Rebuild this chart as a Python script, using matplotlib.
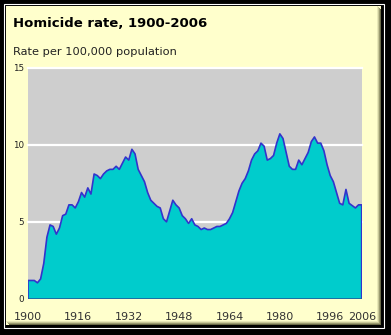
import matplotlib
matplotlib.use("Agg")
import matplotlib.pyplot as plt
from matplotlib.patches import Rectangle
import numpy as np

years = list(range(1900, 2007))
rate = [
    1.2, 1.2, 1.2, 1.05, 1.3, 2.3, 4.0, 4.8, 4.7, 4.2,      # 1900s
    4.6, 5.4, 5.5, 6.1, 6.1, 5.9, 6.3, 6.9, 6.6, 7.2,      # 1910s
    6.8, 8.1, 8.0, 7.8, 8.1, 8.3, 8.4, 8.4, 8.6, 8.4,      # 1920s
    8.8, 9.2, 9.0, 9.7, 9.4, 8.4, 8.0, 7.6, 6.9, 6.4,      # 1930s
    6.2, 6.0, 5.9, 5.2, 5.0, 5.7, 6.4, 6.1, 5.9, 5.4,      # 1940s
    5.2, 4.9, 5.2, 4.8, 4.7, 4.5, 4.6, 4.5, 4.5, 4.6,      # 1950s
    4.7, 4.7, 4.8, 4.9, 5.2, 5.6, 6.3, 7.0, 7.5, 7.8,      # 1960s
    8.3, 9.0, 9.4, 9.6, 10.1, 9.9, 9.0, 9.1, 9.3, 10.1,    # 1970s
    10.7, 10.4, 9.5, 8.6, 8.4, 8.4, 9.0, 8.7, 9.1, 9.5,    # 1980s
    10.2, 10.5, 10.1, 10.1, 9.6, 8.7, 8.0, 7.6, 6.9, 6.2,  # 1990s
    6.1, 7.1, 6.2, 6.05, 5.9, 6.1, 6.1,                     # 2000s
]
x_ticks = [1900, 1916, 1932, 1948, 1964, 1980, 1996, 2006]
y_ticks = [0, 5, 10, 15]

W, H = 391, 335


def fx(px):
    return px / W


def fy(py):
    return 1 - py / H


fig = plt.figure(figsize=(W / 100, H / 100), dpi=100, facecolor="black")


def frame_rect(x0, y0, w, h, **kw):
    # rectangle given in pixels, top-left origin
    r = Rectangle((fx(x0), fy(y0 + h)), w / W, h / H, transform=fig.transFigure, zorder=-10, **kw)
    fig.add_artist(r)


# frame: white outline, yellow panel with bevel on right/bottom
frame_rect(3.5, 3.5, 380, 324, fill=False, edgecolor="white", linewidth=0.8)
frame_rect(6, 6, 375, 319, facecolor="#ffffcc", edgecolor="none")
bevel = ["#e8e8b8", "#c8c898", "#9a9a70", "#6a6a48"]
for i, c in enumerate(bevel):
    frame_rect(377 + i, 6 + i, 1, 319 - i, facecolor=c, edgecolor="none")
    frame_rect(6 + i, 321 + i, 375 - i, 1, facecolor=c, edgecolor="none")

fig.text(fx(13), fy(27.3), "Homicide rate, 1900-2006", fontsize=9.5, fontweight="bold",
         color="black", va="baseline", ha="left")
fig.text(fx(13), fy(55), "Rate per 100,000 population", fontsize=8.2,
         color="#222222", va="baseline", ha="left")

ax = fig.add_axes([fx(28), fy(299), (361.7 - 28) / W, (299 - 67.5) / H])
ax.set_facecolor("#cecece")
for s in ax.spines.values():
    s.set_visible(False)

for v in y_ticks[1:]:
    ax.axhline(v, color="white", linewidth=1.6, zorder=1, clip_on=False)

ax.fill_between(years, rate, 0, facecolor="#00cccc", edgecolor="none", zorder=2)
ax.plot([years[0]] + years + [years[-1]], [0] + rate + [0], color="#3333cc", linewidth=1.2, zorder=3)
ax.plot([years[0], years[-1]], [0, 0], color="#1f5f9f", linewidth=1.2, zorder=3)

ax.set_xlim(1900, 2006)
ax.set_ylim(0, 15)
ax.set_xticks(x_ticks)
ax.set_yticks(y_ticks)
ax.tick_params(axis="x", length=0, pad=9, labelsize=8, labelcolor="#333333")
ax.tick_params(axis="y", length=0, pad=3, labelsize=6.3, labelcolor="#222222")

fig.savefig("out.png", dpi=100, facecolor="black")
